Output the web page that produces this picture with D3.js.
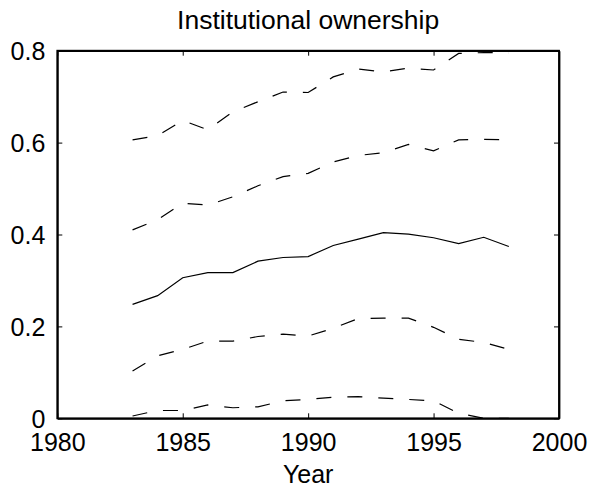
<!DOCTYPE html>
<html>
<head>
<meta charset="utf-8">
<script src="https://cdn.jsdelivr.net/npm/d3@7"></script>
<style>
  html, body { margin: 0; padding: 0; background: #fff; }
  svg { display: block; }
  text { font-family: Arial, "Liberation Sans", Helvetica, sans-serif; fill: #000; }
</style>
</head>
<body>
<svg id="chart" width="592" height="493"></svg>
<script>
// ---- data ----
const years = [1983,1984,1985,1986,1987,1988,1989,1990,1991,1992,1993,1994,1995,1996,1997,1998];
const p90 = [0.606,0.615,0.648,0.628,0.667,0.689,0.710,0.709,0.743,0.760,0.754,0.762,0.758,0.794,0.796,0.795];
const p75 = [0.410,0.432,0.468,0.464,0.482,0.506,0.526,0.533,0.558,0.572,0.578,0.596,0.582,0.606,0.607,0.606];
const median = [0.248,0.267,0.306,0.317,0.317,0.342,0.350,0.352,0.376,0.390,0.404,0.401,0.393,0.380,0.394,0.374];
const p25 = [0.103,0.136,0.150,0.168,0.168,0.178,0.183,0.179,0.196,0.217,0.218,0.218,0.198,0.172,0.165,0.150];
const p10 = [0.005,0.017,0.017,0.029,0.023,0.025,0.038,0.041,0.046,0.047,0.044,0.041,0.038,0.011,0.000,0.000];
const xTicks = [1980,1985,1990,1995,2000];
const yTicks = [0,0.2,0.4,0.6,0.8];
const yTickLabels = ["0","0.2","0.4","0.6","0.8"];
const titleText = "Institutional ownership";
const xLabelText = "Year";

// ---- layout ----
const svg = d3.select("#chart");
const L = 57.3, R = 559, T = 50.7, B = 418.3;
const x = d3.scaleLinear().domain([1980, 2000]).range([L, R]);
const y = d3.scaleLinear().domain([0, 0.8]).range([B, T]);

svg.append("defs").append("clipPath").attr("id", "clip")
  .append("rect").attr("x", L).attr("y", T).attr("width", R - L).attr("height", B - T);

const series = [
  { v: p90, dash: "15,16" },
  { v: p75, dash: "15,16" },
  { v: median, dash: null },
  { v: p25, dash: "15,16" },
  { v: p10, dash: "15,16" }
];

const line = d3.line().x((d, i) => x(years[i])).y(d => y(d));
const g = svg.append("g").attr("clip-path", "url(#clip)");
series.forEach(s => {
  g.append("path")
    .attr("d", line(s.v))
    .attr("fill", "none")
    .attr("stroke", "#000")
    .attr("stroke-width", 1.2)
    .attr("stroke-dasharray", s.dash);
});

// axes (MATLAB box style, inward ticks on all sides)
const fs = 25;
const axB = svg.append("g").attr("transform", `translate(0,${B})`)
  .call(d3.axisBottom(x).tickValues(xTicks).tickFormat(d3.format("d")).tickSizeInner(-5).tickSizeOuter(0).tickPadding(9));
const axT = svg.append("g").attr("transform", `translate(0,${T})`)
  .call(d3.axisTop(x).tickValues(xTicks).tickFormat("").tickSizeInner(-5).tickSizeOuter(0));
const axL = svg.append("g").attr("transform", `translate(${L},0)`)
  .call(d3.axisLeft(y).tickValues(yTicks).tickFormat((d, i) => yTickLabels[i]).tickSizeInner(-5).tickSizeOuter(0).tickPadding(12));
const axR = svg.append("g").attr("transform", `translate(${R},0)`)
  .call(d3.axisRight(y).tickValues(yTicks).tickFormat("").tickSizeInner(-5).tickSizeOuter(0));

[axB, axT, axL, axR].forEach(a => {
  a.select(".domain").attr("stroke", "#000").attr("stroke-width", 1.8);
  a.selectAll(".tick line").attr("stroke", "#000").attr("stroke-width", 1);
  a.selectAll("text").attr("font-size", fs).attr("font-family", "Arial, 'Liberation Sans', sans-serif").attr("fill", "#000");
});
axB.selectAll(".tick text").attr("dy", null).attr("y", 32.4).attr("dominant-baseline", "auto");
axL.selectAll(".tick text").attr("dy", "0.35em");

// square the box corners
svg.append("rect").attr("x", L).attr("y", T).attr("width", R - L).attr("height", B - T)
  .attr("fill", "none").attr("stroke", "#000").attr("stroke-width", 1.8);

// title and label
svg.append("text").attr("x", (L + R) / 2).attr("y", 29).attr("text-anchor", "middle")
  .attr("font-size", 26.5).text(titleText);
svg.append("text").attr("x", (L + R) / 2).attr("y", 482.7).attr("text-anchor", "middle")
  .attr("font-size", fs).text(xLabelText);
</script>
</body>
</html>
